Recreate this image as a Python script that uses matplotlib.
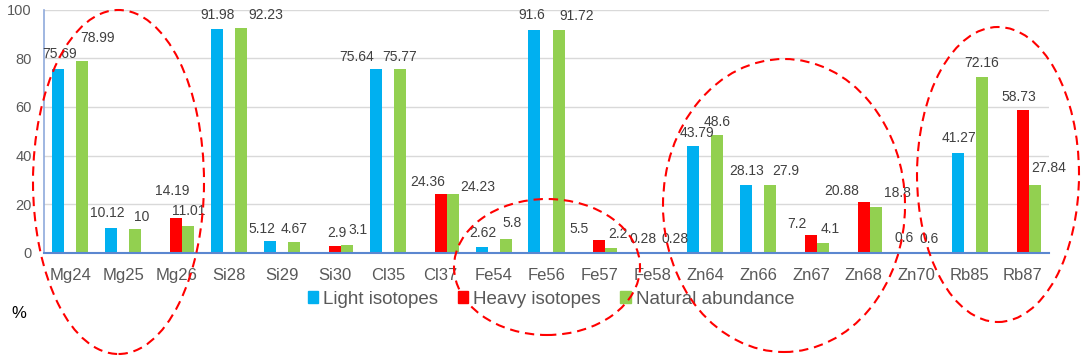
import numpy as np
import matplotlib.pyplot as plt
from matplotlib.patches import Ellipse, Patch

plt.rcParams['font.family'] = ['Liberation Sans', 'DejaVu Sans']

# Isotope abundances (%)
isotopes = ['Mg24', 'Mg25', 'Mg26', 'Si28', 'Si29', 'Si30', 'Cl35', 'Cl37', 'Fe54', 'Fe56',
            'Fe57', 'Fe58', 'Zn64', 'Zn66', 'Zn67', 'Zn68', 'Zn70', 'Rb85', 'Rb87']
nan = np.nan
light = [75.69, 10.12, nan, 91.98, 5.12, nan, 75.64, nan, 2.62, 91.6,
         nan, nan, 43.79, 28.13, nan, nan, nan, 41.27, nan]
heavy = [nan, nan, 14.19, nan, nan, 2.9, nan, 24.36, nan, nan,
         5.5, 0.28, nan, nan, 7.2, 20.88, 0.6, nan, 58.73]
natural = [78.99, 10, 11.01, 92.23, 4.67, 3.1, 75.77, 24.23, 5.8, 91.72,
           2.2, 0.28, 48.6, 27.9, 4.1, 18.8, 0.6, 72.16, 27.84]

series_names = ['Light isotopes', 'Heavy isotopes', 'Natural abundance']
colors = ['#00B0F0', '#FF0000', '#92D050']

# nudges for the data labels (pixels): first label (light/heavy) and natural label
first_nudge = [(1, 15), (-4, 15), (-4, 27), (0, 14), (-8, 12), (2, 13), (-19, 12), (-13, 12),
               (1, 14), (-2.5, 15), (-20, 11), (-9, 13), (4, 13), (1, 14), (-14, 11.5),
               (-22, 11), (-13, 13.5), (1, 14.5), (-4, 13)]
second_nudge = [(14.6, 23), (6, 12), (0, 15), (25, 13), (0, 13), (11, 15), (0, 12), (25, 7),
                (6, 16), (18.5, 14), (6.5, 14), (11, 13), (0, 13), (15.6, 14), (7, 14),
                (21.6, 14), (0, 13), (0, 14), (14, 17)]

fig = plt.figure(figsize=(10.87, 3.57), dpi=100)
ax = fig.add_axes([44 / 1087, 1 - 253 / 357, (1049 - 44) / 1087, (253 - 9.5) / 357])

x = np.arange(len(isotopes))
w = 0.227
data = [light, heavy, natural]
for k, (vals, col) in enumerate(zip(data, colors)):
    ax.bar(x + (k - 1) * w, vals, w, color=col, zorder=2)

# data labels
for i in range(len(isotopes)):
    if not np.isnan(light[i]):
        fx, fv = x[i] - w, light[i]
    else:
        fx, fv = x[i], heavy[i]
    ax.annotate(f'{fv:g}', xy=(fx, fv), xytext=first_nudge[i], textcoords='offset pixels',
                ha='center', va='center', fontsize=10, color='#404040', zorder=3)
    ax.annotate(f'{natural[i]:g}', xy=(x[i] + w, natural[i]), xytext=second_nudge[i],
                textcoords='offset pixels', ha='center', va='center', fontsize=10,
                color='#404040', zorder=3)

ax.set_xlim(-0.5, len(isotopes) - 0.5)
ax.set_ylim(0, 100)
ax.set_yticks(np.arange(0, 101, 20))
ax.set_xticks(x)
ax.set_xticklabels(isotopes)
ax.tick_params(axis='x', length=0, pad=11, labelsize=12, labelcolor='#595959')
ax.tick_params(axis='y', length=0, pad=9, labelsize=10.5, labelcolor='#595959')
ax.grid(axis='y', color='#D9D9D9', linewidth=1)
ax.set_axisbelow(True)
for s in ['top', 'right']:
    ax.spines[s].set_visible(False)
ax.spines['left'].set_color('#8FAADC')
ax.spines['left'].set_linewidth(1.2)
ax.spines['bottom'].set_color('#5B87D0')
ax.spines['bottom'].set_linewidth(1.5)
ax.spines['bottom'].set_zorder(4)

handles = [Patch(color=c) for c in colors]
fig.legend(handles, series_names, loc='center', bbox_to_anchor=(551 / 1087, 1 - 299 / 357),
           ncol=3, frameon=False, fontsize=13.5, handlelength=0.55, handleheight=0.55,
           handletextpad=0.27, columnspacing=1.05, labelcolor='#595959')

fig.text(19 / 1087, 1 - 313 / 357, '%', ha='center', va='center', fontsize=12, color='black')

# dashed red ellipses (figure pixels: cx, cy, width, height)
ellipses = [(118.5, 182, 171, 344), (547, 267, 186, 136), (784, 205.5, 242, 293), (998, 174.5, 162, 295)]
for cx, cy, ew, eh in ellipses:
    e = Ellipse((cx / 1087, 1 - cy / 357), ew / 1087, eh / 357, transform=fig.transFigure,
                fill=False, edgecolor='#FF0000', linewidth=1.5, linestyle=(0, (4.5, 2.8)), zorder=10)
    fig.add_artist(e)

fig.savefig('out.png', dpi=100)
